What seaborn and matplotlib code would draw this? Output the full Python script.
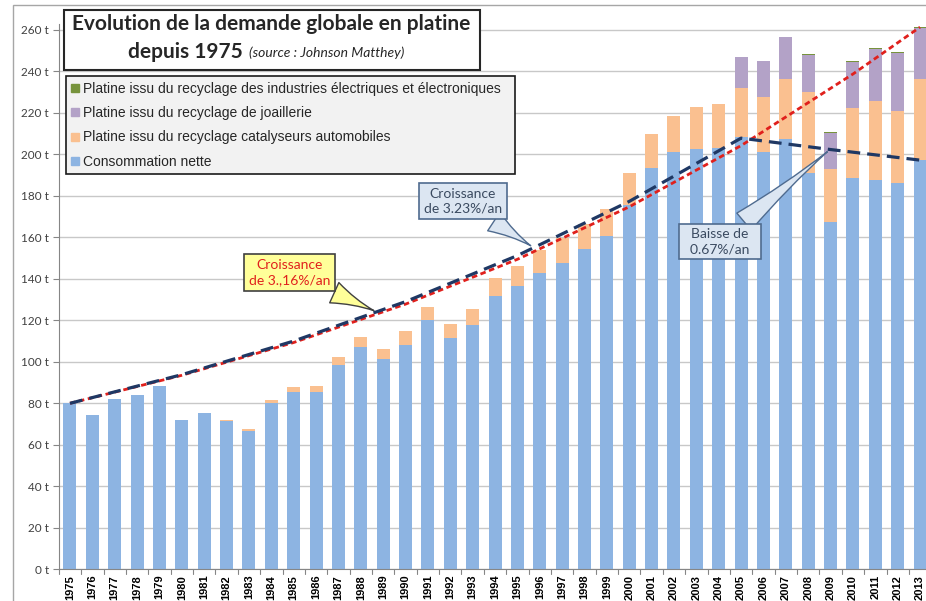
import numpy as np
import pandas as pd
import matplotlib
matplotlib.use("Agg")
import matplotlib.pyplot as plt
import seaborn as sns
from matplotlib.lines import Line2D
from matplotlib.patches import Rectangle

sns.set_style("white")
plt.rcParams['font.family'] = ['Liberation Sans', 'DejaVu Sans']

years = list(range(1975, 2014))
# tonnes
conso_nette = [80, 74.5, 82, 84, 88.5, 72, 75.5, 71.5, 66.5, 80, 85.5, 85.5,
               98.5, 107, 101.3, 108.2, 120, 111.4, 117.7, 131.8, 136.5, 143, 147.7, 154.3, 160.6,
               175.5, 193.2, 201, 202.6, 203, 208.5, 201, 207.4, 191.1, 167.4, 188.7, 187.5, 186.2, 197.1]
recyc_auto = [0, 0, 0, 0, 0, 0, 0, 0.5, 1, 1.5, 2.5, 3,
              3.7, 5, 4.9, 6.8, 6.3, 6.8, 7.7, 8.7, 9.7, 10.9, 11.8, 12, 13,
              15.3, 16.6, 17.5, 20, 21.4, 23.3, 26.8, 29, 38.7, 25.5, 33.5, 38.2, 34.8, 39.3]
recyc_joaillerie = [0] * 30 + [15.3, 17, 20.3, 18.1, 17.2, 22.4, 25.2, 27.7, 24.4]
recyc_electro = [0] * 33 + [0.4, 0.5, 0.5, 0.5, 0.6, 0.7]

# trend lines (values read at a few years)
trend_red_years = [1975, 1980, 1985, 1990, 1995, 2000, 2005, 2010, 2013]
trend_red_vals = [80, 93.5, 109.3, 127.8, 149.4, 174.7, 204.2, 238.7, 261.3]
trend_navy_years = [1975, 1980, 1985, 1990, 1995, 2000, 2005, 2009, 2013]
trend_navy_vals = [80, 93.8, 110, 129, 151.2, 177.3, 207.8, 202.3, 197.2]

yticks = list(range(0, 261, 20))
ytick_labels = [f"{v} t" for v in yticks]

c_blue = "#8db4e2"
c_orange = "#fac090"
c_purple = "#b3a2c7"
c_green = "#77933c"

df = pd.DataFrame({"annee": [str(y) for y in years],
                   "conso": conso_nette, "auto": recyc_auto,
                   "joail": recyc_joaillerie, "elec": recyc_electro})
df["c1"] = df["conso"]
df["c2"] = df["c1"] + df["auto"]
df["c3"] = df["c2"] + df["joail"]
df["c4"] = df["c3"] + df["elec"]

W, H = 926, 601
fig = plt.figure(figsize=(W / 100, H / 100), dpi=100)

# axes placement in pixels
px_per_cat = 22.37
ax_left, ax_bottom_px, ax_top_px = 58.8, 569.3, 23.6
ax_right = 70 + 38.5 * px_per_cat
ax = fig.add_axes([ax_left / W, (H - ax_bottom_px) / H,
                   (ax_right - ax_left) / W, (ax_bottom_px - ax_top_px) / H])

for col, color in [("c4", c_green), ("c3", c_purple), ("c2", c_orange), ("c1", c_blue)]:
    sns.barplot(data=df, x="annee", y=col, color=color, ax=ax, width=0.58,
                saturation=1, linewidth=0, zorder=2)

ax.plot([y - 1975 for y in trend_red_years], trend_red_vals, color="#e0201c",
        lw=2, dashes=(2, 1.3), zorder=4)
ax.plot([y - 1975 for y in trend_navy_years], trend_navy_vals, color="#1f3864",
        lw=2.3, dashes=(4, 2.2), zorder=5)

ax.set_xlim(-0.5, 38.5)
ax.set_ylim(0, 263)
ax.set_yticks(yticks)
ax.set_yticklabels(ytick_labels, fontsize=8.5, color="#404040", family=['Lato', 'DejaVu Sans'])
ax.set_xticks(range(len(years)))
ax.set_xticklabels([str(y) for y in years], rotation=90, fontsize=8, fontweight="bold",
                   va="top", color="black")
ax.set_xlabel("")
ax.set_ylabel("")
ax.yaxis.grid(True, color="#c8c8c8", lw=1, zorder=0)
ax.set_axisbelow(True)
for s in ["top", "right"]:
    ax.spines[s].set_visible(False)
ax.spines["left"].set_color("#868686")
ax.spines["bottom"].set_color("#868686")
ax.tick_params(axis="y", length=4, color="#868686", pad=3, left=True)
ax.tick_params(axis="x", length=0, pad=4)
# category boundary ticks on the x axis
for i in range(len(years) + 1):
    ax.plot([i - 0.5, i - 0.5], [0, -2.5], color="#868686", lw=0.8,
            clip_on=False, zorder=1)

# callouts
callout_font = ['Lato', 'DejaVu Sans']
wedge = "wedge,tail_width=1.6,shrink_factor=0.35"
ax.annotate("Croissance\nde 3.,16%/an", xy=(13.7, 124.1), xytext=(9.83, 143),
            ha="center", va="center", fontsize=10, color="#e0201c", family=callout_font,
            linespacing=1.3,
            bbox=dict(boxstyle="square,pad=0.35", fc="#ffff99", ec="#404040", lw=1.2),
            arrowprops=dict(arrowstyle=wedge, fc="#ffff99", ec="#404040", lw=1), zorder=6)
ax.annotate("Croissance\nde 3.23%/an", xy=(20.7, 155.2), xytext=(17.55, 177.5),
            ha="center", va="center", fontsize=10, color="#3a4a60", family=callout_font,
            linespacing=1.3,
            bbox=dict(boxstyle="square,pad=0.35", fc="#dce6f2", ec="#4f6b8f", lw=1.2),
            arrowprops=dict(arrowstyle=wedge, fc="#dce6f2", ec="#4f6b8f", lw=1), zorder=6)
ax.annotate("  Baisse de  \n  0.67%/an  ", xy=(33.95, 202.1), xytext=(29.06, 157.9),
            ha="center", va="center", fontsize=10, color="#3a4a60", family=callout_font,
            linespacing=1.3,
            bbox=dict(boxstyle="square,pad=0.3", fc="#dce6f2", ec="#4f6b8f", lw=1.2),
            arrowprops=dict(arrowstyle=wedge, fc="#dce6f2", ec="#4f6b8f", lw=1), zorder=6)

# title box
fig.patches.append(Rectangle((63.5 / W, 1 - 70 / H), (480 - 63.5) / W, 60 / H,
                             transform=fig.transFigure, fc="white", ec="#262626", lw=1.5,
                             zorder=5))
fig.text(271 / W, 1 - 24 / H, "Evolution de la demande globale en platine", ha="center",
         va="center", fontsize=15, fontweight="bold", family=['Lato', 'DejaVu Sans'],
         zorder=6)
fig.text(243 / W, 1 - 52 / H, "depuis 1975", ha="right", va="center", fontsize=15,
         fontweight="bold", family=['Lato', 'DejaVu Sans'], zorder=6)
fig.text(249 / W, 1 - 53 / H, "(source : Johnson Matthey)", ha="left", va="center",
         fontsize=10, style="italic", family=['Lato', 'DejaVu Sans'], zorder=6)

# legend
labels = ["Platine issu du recyclage des industries électriques et électroniques",
          "Platine issu du recyclage de joaillerie",
          "Platine issu du recyclage catalyseurs automobiles",
          "Consommation nette"]
handles = [Line2D([], [], marker="s", ls="", color=c, markersize=5.5)
           for c in [c_green, c_purple, c_orange, c_blue]]
leg_top, leg_h = 76, 95
leg = fig.legend(handles, labels, loc="upper left",
                 bbox_to_anchor=(65.7 / W, 1 - (leg_top + leg_h) / H, (515 - 65.7) / W, leg_h / H),
                 mode="expand", fontsize=10, frameon=True, fancybox=False,
                 handlelength=0.6, handletextpad=0.25, labelspacing=0.75,
                 borderpad=0.4, borderaxespad=0)
leg.get_frame().set_facecolor("#f2f2f2")
leg.get_frame().set_edgecolor("#1a1a1a")
leg.get_frame().set_linewidth(1.2)
leg.get_frame().set_alpha(1)
leg.set_zorder(7)

# chart area border
fig.patches.append(Rectangle((13 / W, -0.1), 1.2, 1 - 5 / H + 0.1, transform=fig.transFigure,
                             fill=False, ec="#a6a6a6", lw=1, zorder=0))

fig.savefig("out.png", dpi=100)
